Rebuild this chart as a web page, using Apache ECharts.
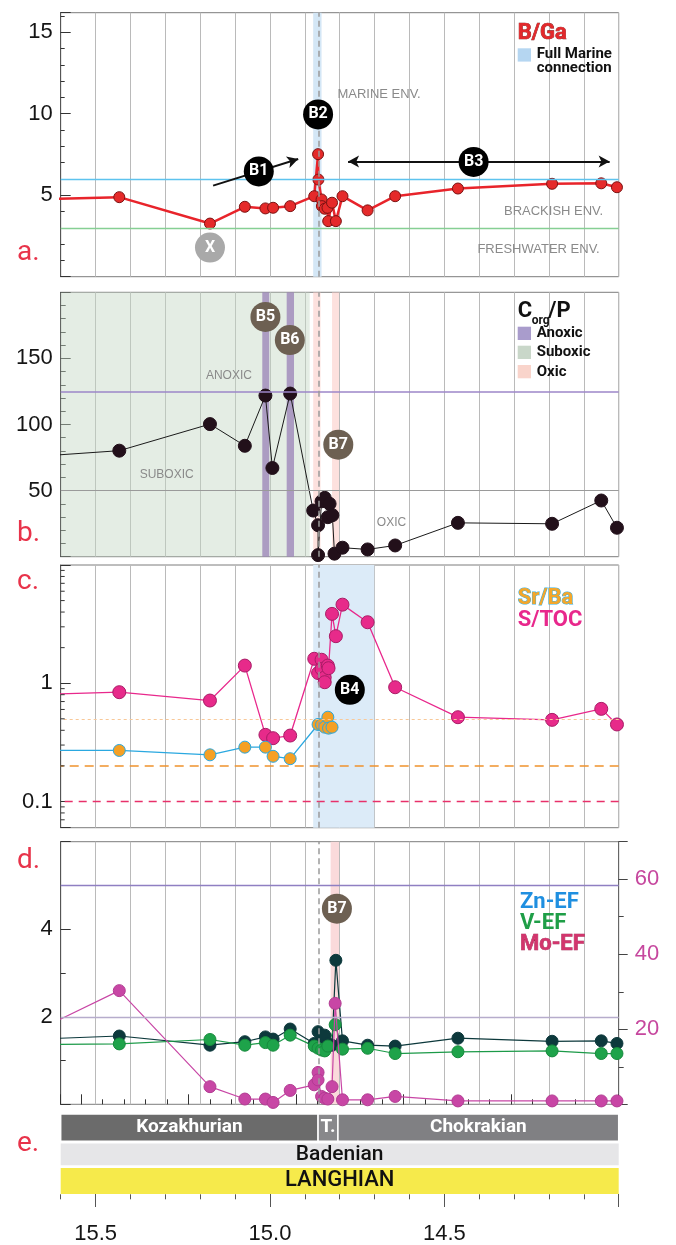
<!DOCTYPE html>
<html>
<head>
<meta charset="utf-8">
<title>Geochemical proxies vs age</title>
<script src="https://cdn.jsdelivr.net/npm/echarts@6/dist/echarts.min.js"></script>
<style>html,body{margin:0;padding:0;background:#fff;}#chart{width:676px;height:1245px;}</style>
</head>
<body>
<div id="chart"></div>
<script>
// ---------------- data (age in Ma, value) ----------------
const ageLabels = [15.5, 15.0, 14.5];
const bGa = [[15.70,4.72],[15.432,4.88],[15.172,3.26],[15.072,4.29],[15.013,4.19],[14.991,4.23],[14.942,4.33],
  [14.873,4.94],[14.862,7.52],[14.861,5.96],[14.852,4.74],[14.851,4.33],[14.843,4.17],[14.835,4.23],[14.833,3.41],
  [14.822,4.54],[14.811,3.41],[14.792,4.94],[14.720,4.07],[14.641,4.94],[14.461,5.41],[14.191,5.70],[14.050,5.73],[14.005,5.49]];
const corgP = [[15.70,75.3],[15.432,80.2],[15.172,100.3],[15.072,83.9],[15.013,121.9],[14.993,67.1],[14.942,123.4],
  [14.876,34.9],[14.862,23.8],[14.862,1.2],[14.852,41.9],[14.843,44.5],[14.829,40.0],[14.834,29.9],[14.821,31.4],
  [14.815,2.3],[14.792,6.8],[14.720,5.5],[14.641,8.5],[14.461,25.6],[14.191,24.9],[14.050,42.5],[14.005,21.9]];
const sToc = [[15.70,0.80],[15.432,0.84],[15.172,0.714],[15.072,1.41],[15.013,0.366],[14.991,0.343],[14.942,0.361],
  [14.873,1.61],[14.862,1.22],[14.852,1.58],[14.852,1.32],[14.843,1.12],[14.843,1.02],[14.834,1.41],[14.832,1.34],
  [14.822,3.86],[14.811,2.50],[14.792,4.62],[14.720,3.28],[14.641,0.925],[14.461,0.516],[14.191,0.49],[14.050,0.607],[14.005,0.448]];
const srBa = [[15.70,0.27],[15.432,0.27],[15.172,0.248],[15.072,0.288],[15.013,0.288],[14.991,0.241],[14.942,0.23],
  [14.862,0.448],[14.852,0.445],[14.843,0.425],[14.834,0.516],[14.832,0.417],[14.822,0.425]];
const znEF = [[15.70,1.48],[15.432,1.56],[15.172,1.35],[15.072,1.43],[15.013,1.54],[14.991,1.49],[14.942,1.72],
  [14.873,1.39],[14.862,1.66],[14.852,1.47],[14.843,1.58],[14.834,1.39],[14.822,1.35],[14.811,3.29],[14.792,1.45],
  [14.720,1.35],[14.641,1.33],[14.461,1.51],[14.191,1.44],[14.050,1.45],[14.005,1.39]];
const vEF = [[15.70,1.365],[15.432,1.38],[15.172,1.48],[15.072,1.35],[15.013,1.41],[14.991,1.35],[14.942,1.58],
  [14.873,1.33],[14.862,1.28],[14.852,1.24],[14.843,1.22],[14.834,1.33],[14.813,1.82],[14.792,1.26],[14.720,1.28],
  [14.641,1.16],[14.461,1.20],[14.191,1.22],[14.050,1.16],[14.005,1.16]];
const moEF = [[15.70,18.2],[15.432,30.3],[15.172,4.7],[15.072,1.4],[15.013,1.4],[14.991,0.5],[14.942,3.7],
  [14.873,5.2],[14.862,8.5],[14.862,6.5],[14.852,2.1],[14.843,1.6],[14.834,1.4],[14.822,4.7],[14.813,26.9],
  [14.792,1.2],[14.720,1.2],[14.641,2.1],[14.461,0.9],[14.191,0.9],[14.050,0.9],[14.005,0.9]];
const logMinorTicks = [0.07,0.08,0.09,0.2,0.3,0.4,0.5,0.6,0.7,0.8,0.9,2,3,4,5,6,7,8,9];
// intervals (Ma)
const turnover = 14.862;
const fullMarineBand = [14.876, 14.852];
const b4Band = [14.876, 14.701];
const suboxicBand = [15.6, 14.886];
const anoxicBands = [[15.022, 15.002], [14.952, 14.931]];
const oxicBands = [[14.876, 14.855], [14.822, 14.802]];
const oxicBandD = [14.826, 14.802];
// thresholds
const bGaThresholds = [6, 3];
const corgThresholds = [125, 50];
const srBaThresholds = [0.5, 0.2, 0.1];
const efThresholds = [5, 2];
// stratigraphy
const stageNames = ['Kozakhurian', 'T.', 'Chokrakian', 'Badenian', 'LANGHIAN'];
const stageFrom = [15.6, 14.862, 14.805, 15.6, 15.6];
const stageTo = [14.862, 14.805, 14.0, 14.0, 14.0];
const stageRow = [2, 2, 2, 1, 0];
// annotations [age, value]
const badgesA = [['B1', [15.032, 6.46]], ['B2', [14.862, 9.96]], ['B3', [14.416, 7.04]]];
const badgeX = ['X', [15.172, 1.79]];
const arrowB1 = [[15.163, 5.59], [14.919, 7.22]];
const arrowB3 = [[14.776, 7.07], [14.026, 7.07]];
const badgesB = [['B5', [15.013, 181.4]], ['B6', [14.943, 163.9]], ['B7', [14.804, 84.7]]];
const badgesC = [['B4', [14.771, 0.88]]];
const badgesD = [['B7', [14.808, 4.47]]];
const envTextsA = [['MARINE ENV.', [14.808, 11.16], 'right'], ['BRACKISH ENV.', [14.043, 4.02], 'left'], ['FRESHWATER ENV.', [14.053, 1.69], 'left']];
const envTextsB = [['ANOXIC', [15.185, 137.1], 'right'], ['SUBOXIC', [15.375, 61.7], 'right'], ['OXIC', [14.695, 25.9], 'right']];

// ---------------- layout / style ----------------
const X_MIN = 14.0, X_MAX = 15.6;
const L = 60.7, W = 558;
const AXIS_FONT = 'Liberation Sans';
const gridStyle = {show: true, borderColor: '#7d7d7d', borderWidth: 1, backgroundColor: 'transparent'};

function ageAxis(g, extra) {
  return Object.assign({
    type: 'value', gridIndex: g, min: X_MIN, max: X_MAX, inverse: true, interval: 0.1,
    axisLine: {show: false, onZero: false}, axisTick: {show: false}, axisLabel: {show: false},
    splitLine: {show: true, lineStyle: {color: '#bababa', width: 1}}
  }, extra || {});
}
function onlyLabels(list) {
  return function (v) {
    for (const t of list) { if (Math.abs(v - t) < 1e-6) return String(t); }
    return '';
  };
}
const yLabel = (list, color) => ({show: true, formatter: onlyLabels(list), fontSize: 22, fontFamily: AXIS_FONT, color: color || '#151515', margin: 8});
const tickIn = (len) => ({show: true, inside: true, length: len, lineStyle: {color: '#333', width: 1}});

function badge(list, color) {
  return list.map(([n, c]) => ({
    name: n, coord: c, symbol: 'circle', symbolSize: 30, itemStyle: {color: color},
    label: {show: true, position: 'inside', formatter: '{b}', color: '#fff', fontWeight: 'bold', fontSize: 16, fontFamily: 'Roboto'}
  }));
}
function envText(list, size) {
  return list.map(([n, c, pos]) => ({
    name: n, coord: c, symbol: 'circle', symbolSize: 1, itemStyle: {color: 'rgba(0,0,0,0)'},
    label: {show: true, position: pos, distance: 0, formatter: '{b}', color: '#8a8a8a', fontSize: size, fontFamily: AXIS_FONT}
  }));
}
function decor(xi, yi, z, extra) { return Object.assign({type: 'line', xAxisIndex: xi, yAxisIndex: yi, data: [], z: z, silent: true}, extra); }
// one reference line per series, with the style set at markLine level
function refLine(xi, yi, item, color, width, type) {
  return decor(xi, yi, 2, {
    color: color,
    markLine: {silent: true, symbol: ['none', 'none'], label: {show: false}, animation: false,
      lineStyle: {color: color, width: width, type: type || 'solid', opacity: 1},
      emphasis: {disabled: true}, data: [item]}
  });
}
const dash = [6, 4];
function ma(data, color) { return {silent: true, itemStyle: {color: color}, data: data.map(b => [{xAxis: b[0]}, {xAxis: b[1]}])}; }
function dataLine(name, data, xi, yi, o) {
  return {
    name: name, type: 'line', xAxisIndex: xi, yAxisIndex: yi, data: data, z: o.z || 3, color: o.fill,
    symbol: 'circle', symbolSize: o.size, showSymbol: true, clip: true,
    lineStyle: {color: o.line, width: o.lw},
    itemStyle: {color: o.fill, borderColor: o.border, borderWidth: o.bw || 1},
    emphasis: {disabled: true}
  };
}

const stageStyle = {
  'Kozakhurian': {fill: '#6b6b6b', text: '#ffffff', font: 'bold 19px Roboto'},
  'T.': {fill: '#88888b', text: '#ffffff', font: 'bold 19px Roboto'},
  'Chokrakian': {fill: '#808083', text: '#ffffff', font: 'bold 19px Roboto'},
  'Badenian': {fill: '#e6e6e8', text: '#111111', font: '500 21px Roboto'},
  'LANGHIAN': {fill: '#f6ea4b', text: '#111111', font: '500 22px Roboto'}
};
const rowHeight = [26, 21.7, 27.4];
function renderStage(params, api) {
  const row = api.value(2);
  const p0 = api.coord([api.value(0), row]);
  const p1 = api.coord([api.value(1), row]);
  const name = stageNames[params.dataIndex];
  const st = stageStyle[name];
  const h = rowHeight[row];
  const x = Math.min(p0[0], p1[0]);
  const w = Math.abs(p1[0] - p0[0]);
  const y = p0[1] - h / 2;
  return {type: 'group', children: [
    {type: 'rect', shape: {x: x, y: y, width: w, height: h}, style: {fill: st.fill, stroke: row === 2 ? '#ffffff' : null, lineWidth: row === 2 ? 1.5 : 0}},
    {type: 'text', style: {text: name, x: x + w / 2, y: p0[1], align: 'center', verticalAlign: 'middle', fill: st.text, font: st.font}}
  ]};
}
function renderLogTick(params, api) {
  const p = api.coord([api.value(0), api.value(1)]);
  return {type: 'line', shape: {x1: p[0], y1: p[1], x2: p[0] + 4, y2: p[1]}, style: {stroke: '#333', lineWidth: 1}};
}

function txt(x, y, text, font, fill, extra) {
  return {type: 'text', x: x, y: y, silent: true, z: 100, style: Object.assign({text: text, font: font, fill: fill, verticalAlign: 'middle', align: 'left'}, extra || {})};
}
function sq(x, y, color) { return {type: 'rect', silent: true, z: 100, shape: {x: x, y: y, width: 13.3, height: 13.3}, style: {fill: color}}; }
const LEG = 'bold 22px Roboto', LEG2 = 'bold 15px Roboto', PANEL = '28px Roboto', RED = '#e8334a';

const option = {
  animation: false,
  backgroundColor: '#ffffff',
  grid: [
    Object.assign({left: L, top: 12.7, width: W, height: 264}, gridStyle),
    Object.assign({left: L, top: 292.3, width: W, height: 264.4}, gridStyle),
    Object.assign({left: L, top: 565, width: W, height: 262.7}, gridStyle),
    Object.assign({left: L, top: 841.7, width: W, height: 262.6}, gridStyle),
    {left: L, top: 1114.3, width: W, height: 80, show: false},
    {left: 95.7, top: 1114.3, width: 523, height: 80, show: false}
  ],
  xAxis: [
    ageAxis(0), ageAxis(1), ageAxis(2), ageAxis(3),
    {type: 'value', gridIndex: 3, min: 0, max: 25.95, inverse: true, interval: 1, position: 'bottom',
      axisLine: {show: false, onZero: false}, axisLabel: {show: false}, splitLine: {show: false},
      axisTick: {show: true, inside: true, length: 5, lineStyle: {color: '#333'}}},
    {type: 'value', gridIndex: 3, min: 0, max: 25.95, inverse: true, interval: 5, position: 'bottom',
      axisLine: {show: false, onZero: false}, axisLabel: {show: false}, splitLine: {show: false},
      axisTick: {show: true, inside: true, length: 10, lineStyle: {color: '#333'}}},
    ageAxis(4, {splitLine: {show: false}, axisTick: {show: true, inside: false, length: 5, lineStyle: {color: '#555'}}}),
    {type: 'value', gridIndex: 5, min: 14.0, max: 15.5, inverse: true, interval: 0.5, position: 'bottom',
      axisLine: {show: false, onZero: false}, splitLine: {show: false},
      axisTick: {show: true, inside: false, length: 13, lineStyle: {color: '#555'}},
      axisLabel: {show: true, margin: 29, fontSize: 22, fontFamily: AXIS_FONT, color: '#151515',
        formatter: function (v) { return ageLabels.some(t => Math.abs(t - v) < 1e-6) ? v.toFixed(1) : ''; }}}
  ],
  yAxis: [
    // 0 panel a major
    {type: 'value', gridIndex: 0, min: 0, max: 16.2, interval: 5, position: 'left',
      axisLine: {show: true, onZero: false, lineStyle: {color: '#555'}}, axisTick: tickIn(10),
      axisLabel: yLabel([5, 10, 15]), splitLine: {show: false}},
    // 1 panel a minor
    {type: 'value', gridIndex: 0, min: 0, max: 16.2, interval: 1, position: 'left',
      axisLine: {show: false, onZero: false}, axisTick: tickIn(4), axisLabel: {show: false}, splitLine: {show: false}},
    // 2 panel b
    {type: 'value', gridIndex: 1, min: 0, max: 200, interval: 50, position: 'left',
      axisLine: {show: true, onZero: false, lineStyle: {color: '#555'}}, axisTick: tickIn(10),
      minorTick: {show: true, splitNumber: 5, length: 5, lineStyle: {color: '#333'}},
      axisLabel: yLabel([50, 100, 150]), splitLine: {show: false}},
    // 3 panel c (log)
    {type: 'log', logBase: 10, gridIndex: 2, min: 0.06, max: 10, position: 'left',
      axisLine: {show: true, onZero: false, lineStyle: {color: '#555'}}, axisTick: tickIn(10),
      axisLabel: yLabel([0.1, 1]), splitLine: {show: false}},
    // 4 panel d left
    {type: 'value', gridIndex: 3, min: 0, max: 6, interval: 2, position: 'left',
      axisLine: {show: true, onZero: false, lineStyle: {color: '#555'}}, axisTick: tickIn(10),
      minorTick: {show: true, splitNumber: 2, length: 5, lineStyle: {color: '#333'}},
      axisLabel: yLabel([2, 4]), splitLine: {show: false}},
    // 5 panel d right major
    {type: 'value', gridIndex: 3, min: 0, max: 70, interval: 20, position: 'right',
      axisLine: {show: true, onZero: false, lineStyle: {color: '#666'}},
      axisTick: {show: true, inside: false, length: 9, lineStyle: {color: '#444'}},
      axisLabel: Object.assign(yLabel([20, 40, 60], '#c6479e'), {margin: 16}), splitLine: {show: false}},
    // 6 panel d right minor
    {type: 'value', gridIndex: 3, min: 0, max: 70, interval: 10, position: 'right',
      axisLine: {show: false, onZero: false}, axisTick: {show: true, inside: false, length: 5, lineStyle: {color: '#444'}},
      axisLabel: {show: false}, splitLine: {show: false}},
    // 7 strat rows
    {type: 'category', gridIndex: 4, data: ['epoch', 'stage', 'substage'], show: false},
    // 8 dummy for tick grid
    {type: 'value', gridIndex: 5, min: 0, max: 1, show: false}
  ],
  series: [
    // ---------- panel a ----------
    decor(0, 0, 1, {markArea: ma([fullMarineBand], '#d4e7f6')}),
    refLine(0, 0, {yAxis: bGaThresholds[0]}, '#5ec3ee', 1.3),
    refLine(0, 0, {yAxis: bGaThresholds[1]}, '#86cf94', 1.3),
    refLine(0, 0, {xAxis: turnover}, '#9a9a9a', 1.5, dash),
    dataLine('B/Ga', bGa, 0, 0, {size: 11, line: '#e8242b', lw: 2.5, fill: '#e52a2a', border: '#7c1212'}),
    decor(0, 0, 5, {
      color: '#111',
      markLine: {silent: true, symbolSize: [9, 11], label: {show: false}, animation: false,
        lineStyle: {color: '#111', width: 2, type: 'solid'},
        data: [
          [{coord: arrowB1[0], symbol: 'none'}, {coord: arrowB1[1], symbol: 'arrow'}],
          [{coord: arrowB3[0], symbol: 'arrow'}, {coord: arrowB3[1], symbol: 'arrow'}]
        ]},
      markPoint: {silent: true, animation: false, data: badge(badgesA, '#000000').concat(badge([badgeX], '#a9a9a9')).concat(envText(envTextsA, 13))}
    }),
    // ---------- panel b ----------
    decor(1, 2, 1, {markArea: ma([suboxicBand], 'rgba(196,214,196,0.45)')}),
    decor(1, 2, 1, {markArea: ma(oxicBands, 'rgba(251,205,200,0.6)')}),
    decor(1, 2, 1, {markArea: ma(anoxicBands, 'rgba(150,125,180,0.72)')}),
    refLine(1, 2, {yAxis: corgThresholds[0]}, '#9c86c8', 1.5),
    refLine(1, 2, {yAxis: corgThresholds[1]}, '#9a9a9a', 1),
    refLine(1, 2, {xAxis: turnover}, '#9a9a9a', 1.5, dash),
    dataLine('Corg/P', corgP, 1, 2, {size: 13, line: '#1a1a1a', lw: 1, fill: '#22101a', border: '#22101a'}),
    decor(1, 2, 5, {markPoint: {silent: true, animation: false, data: badge(badgesB, '#6d6052').concat(envText(envTextsB, 12))}}),
    // ---------- panel c ----------
    decor(2, 3, 1, {markArea: ma([b4Band], '#dcebf8')}),
    refLine(2, 3, {yAxis: srBaThresholds[0]}, '#f8c898', 1.2, [3, 3]),
    refLine(2, 3, {yAxis: srBaThresholds[1]}, '#f0922c', 1.5, [9, 6]),
    refLine(2, 3, {yAxis: srBaThresholds[2]}, '#e8306a', 1.3, [8, 6]),
    refLine(2, 3, {xAxis: turnover}, '#9a9a9a', 1.5, dash),
    {type: 'custom', xAxisIndex: 2, yAxisIndex: 3, data: logMinorTicks.map(v => [X_MAX, v]), renderItem: renderLogTick, clip: false, silent: true, z: 6, encode: {x: 0, y: 1}},
    dataLine('S/TOC', sToc, 2, 3, {size: 13, line: '#e8288c', lw: 1.3, fill: '#e72a8a', border: '#a81c66', z: 3}),
    dataLine('Sr/Ba', srBa, 2, 3, {size: 12, line: '#2aa8e0', lw: 1.3, fill: '#f5a024', border: '#2aa8e0', z: 4}),
    decor(2, 3, 5, {markPoint: {silent: true, animation: false, data: badge(badgesC, '#000000')}}),
    // ---------- panel d ----------
    decor(3, 4, 1, {markArea: ma([oxicBandD], '#fadadb')}),
    refLine(3, 4, {yAxis: efThresholds[0]}, '#8f7fc2', 1.3),
    refLine(3, 4, {yAxis: efThresholds[1]}, '#b6accc', 1.3),
    refLine(3, 4, {xAxis: turnover}, '#9a9a9a', 1.5, dash),
    dataLine('Zn-EF', znEF, 3, 4, {size: 12, line: '#0d393c', lw: 1.2, fill: '#0d393c', border: '#0d393c', z: 3}),
    dataLine('V-EF', vEF, 3, 4, {size: 12, line: '#1c9a48', lw: 1.2, fill: '#1ea34a', border: '#178a3d', z: 3}),
    dataLine('Mo-EF', moEF, 3, 5, {size: 12, line: '#c846a5', lw: 1.2, fill: '#c846a5', border: '#b23b92', z: 4}),
    decor(3, 4, 5, {markPoint: {silent: true, animation: false, data: badge(badgesD, '#6d6052')}}),
    // ---------- panel e: stratigraphy ----------
    {type: 'custom', xAxisIndex: 6, yAxisIndex: 7, silent: true, z: 2,
      data: stageNames.map((n, i) => [stageFrom[i], stageTo[i], stageRow[i]]),
      encode: {x: [0, 1], y: 2}, renderItem: renderStage, clip: false}
  ],
  graphic: [
    // panel labels
    txt(17, 253, 'a.', PANEL, RED), txt(17, 534, 'b.', PANEL, RED), txt(17, 582, 'c.', PANEL, RED),
    txt(17, 861, 'd.', PANEL, RED), txt(17, 1144, 'e.', PANEL, RED),
    // panel a legend
    txt(517.7, 33, 'B/Ga', LEG, '#e3282b', {stroke: '#7a1313', lineWidth: 0.7}),
    sq(517.7, 48.3, '#b5d6f1'),
    txt(536.7, 54, 'Full Marine', LEG2, '#111'), txt(536.7, 68, 'connection', LEG2, '#111'),
    // panel b legend
    txt(517.7, 311, 'C', LEG, '#111'), txt(531.7, 321, 'org', 'bold 12px Roboto', '#111'), txt(548.3, 311, '/P', LEG, '#111'),
    sq(517.7, 326.7, '#a99ccc'), txt(536.7, 333.5, 'Anoxic', LEG2, '#111'),
    sq(517.7, 345.7, '#c9d7c9'), txt(536.7, 352.5, 'Suboxic', LEG2, '#111'),
    sq(517.7, 365, '#f9d4cb'), txt(536.7, 372, 'Oxic', LEG2, '#111'),
    // panel c legend
    txt(517.7, 598.5, 'Sr/Ba', LEG, '#f4a62a', {stroke: '#3ab0e0', lineWidth: 1}),
    txt(517.7, 620.5, 'S/TOC', LEG, '#e8288c'),
    // panel d legend
    txt(520, 902, 'Zn-EF', LEG, '#1f8fe0'),
    txt(520, 923.3, 'V-EF', LEG, '#1f9e47'),
    txt(520, 944.7, 'Mo-EF', LEG, '#d2356d', {stroke: '#9a1f4a', lineWidth: 0.6})
  ]
};

const chart = echarts.init(document.getElementById('chart'), null, {renderer: 'canvas', width: 676, height: 1245});
chart.setOption(option);
</script>
</body>
</html>
